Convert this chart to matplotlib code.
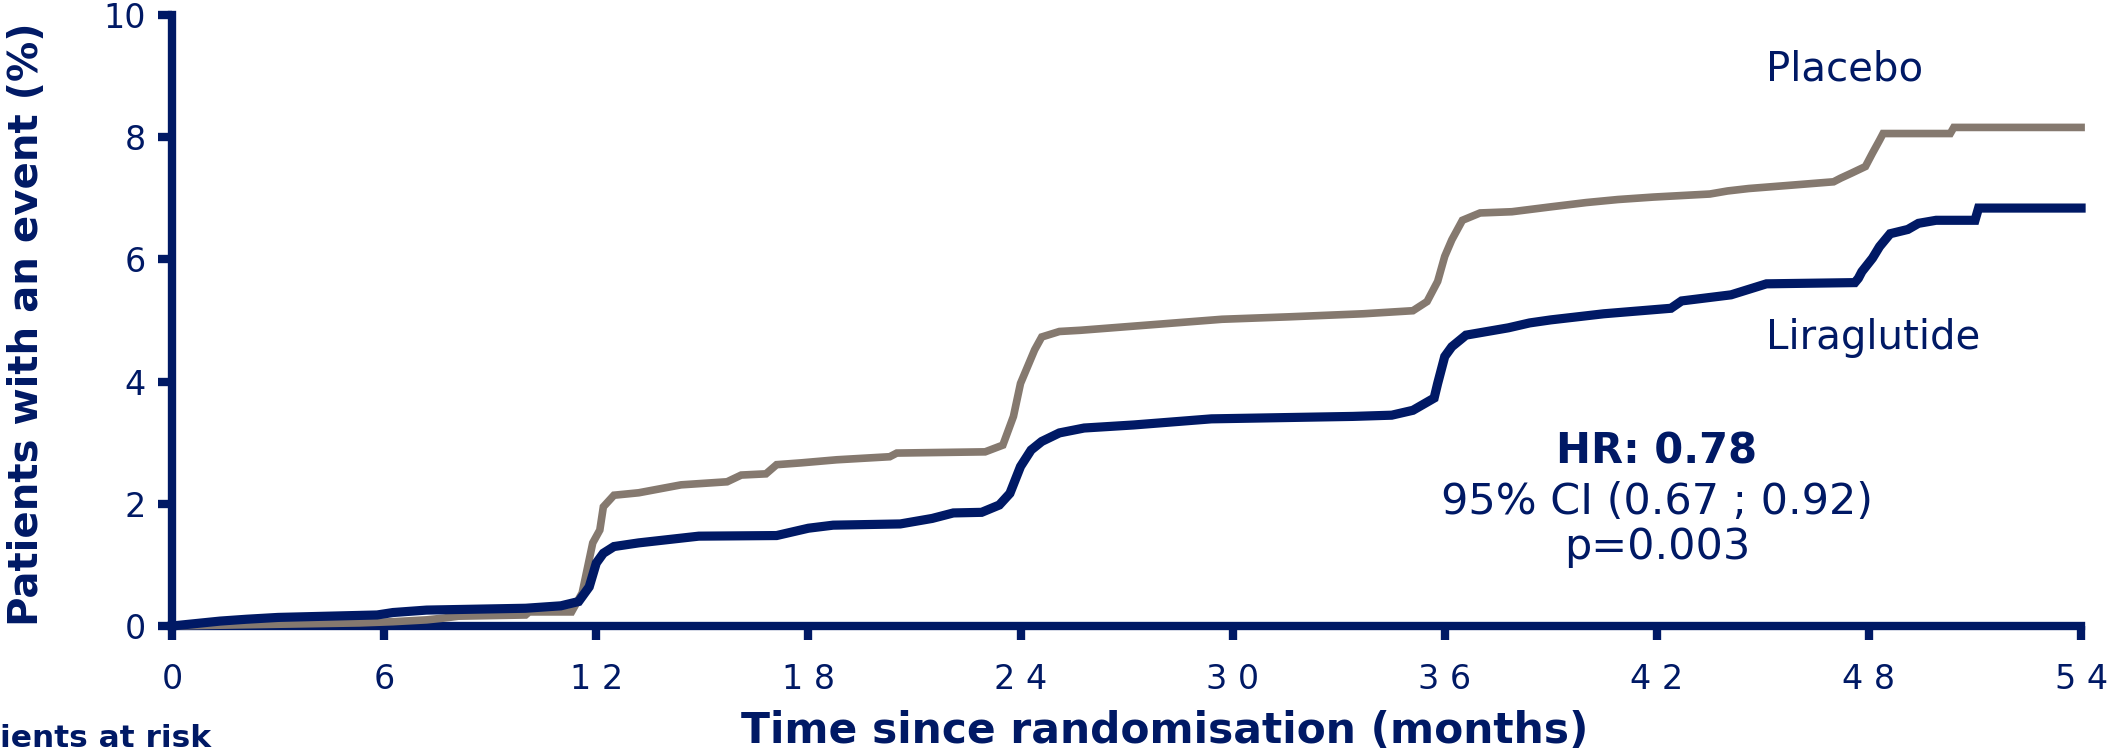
import matplotlib
matplotlib.use("Agg")
import matplotlib.pyplot as plt

# Kaplan-Meier style cumulative event curves
placebo_t = [0, 5.3, 6.25, 7.2, 7.7, 8.1, 10.0, 10.1, 11.3, 11.6, 11.9, 12.1, 12.2, 12.5,
             13.2, 14.4, 15.7, 16.1, 16.8, 17.1, 17.8, 18.8, 20.3, 20.5, 23.0, 23.5, 23.8,
             24.0, 24.4, 24.6, 25.1, 25.7, 27.7, 29.7, 31.6, 33.7, 35.1, 35.5, 35.8, 36.0,
             36.2, 36.5, 37.0, 37.9, 39.0, 40.0, 40.9, 41.9, 43.5, 44.0, 44.6, 45.7, 47.0,
             47.2, 47.5, 47.9, 48.1, 48.3, 48.4, 50.3, 50.4, 54]
placebo_pct = [0.0, 0.05, 0.07, 0.10, 0.13, 0.16, 0.18, 0.23, 0.23, 0.54, 1.36, 1.57, 1.95, 2.14,
               2.18, 2.31, 2.36, 2.47, 2.49, 2.64, 2.67, 2.72, 2.77, 2.83, 2.85, 2.96, 3.43,
               3.97, 4.52, 4.73, 4.82, 4.84, 4.93, 5.02, 5.06, 5.11, 5.16, 5.31, 5.64, 6.05,
               6.32, 6.64, 6.76, 6.78, 6.86, 6.93, 6.98, 7.02, 7.07, 7.12, 7.16, 7.21, 7.27,
               7.33, 7.41, 7.52, 7.74, 7.95, 8.06, 8.06, 8.16, 8.16]

lira_t = [0, 1.36, 2.1, 3.0, 5.8, 6.25, 7.2, 10.0, 11.0, 11.5, 11.8, 12.0, 12.2, 12.5, 13.2,
          14.9, 17.1, 18.0, 18.7, 20.6, 21.5, 22.1, 22.9, 23.4, 23.7, 24.0, 24.3, 24.6, 25.1,
          25.8, 27.2, 29.4, 33.4, 34.5, 35.1, 35.7, 35.8, 36.0, 36.2, 36.6, 37.8, 38.4, 39.0,
          40.5, 42.4, 42.7, 44.1, 44.6, 45.1, 47.6, 47.7, 47.8, 48.1, 48.3, 48.6, 49.1, 49.4,
          49.9, 51.0, 51.1, 54]
lira_pct = [0.0, 0.08, 0.11, 0.14, 0.18, 0.22, 0.26, 0.29, 0.33, 0.40, 0.64, 1.03, 1.19, 1.30,
            1.36, 1.47, 1.48, 1.60, 1.65, 1.67, 1.76, 1.85, 1.86, 1.98, 2.17, 2.61, 2.88, 3.02,
            3.16, 3.24, 3.29, 3.39, 3.43, 3.45, 3.53, 3.73, 3.97, 4.41, 4.57, 4.76, 4.88, 4.96,
            5.01, 5.11, 5.20, 5.32, 5.42, 5.51, 5.60, 5.62, 5.69, 5.80, 6.02, 6.21, 6.42, 6.49,
            6.59, 6.64, 6.64, 6.84, 6.84]

x_ticks = list(range(0, 55, 6))
y_ticks = [0, 2, 4, 6, 8, 10]
# the source font spaces the digits of two-digit labels widely
x_tick_labels = [' '.join(str(v)) for v in x_ticks]
y_tick_labels = [str(v) for v in y_ticks]

NAVY = '#001965'
TAUPE = '#85796f'

plt.rcParams['font.family'] = ['DejaVu Sans']

fig = plt.figure(figsize=(21.19, 7.54), dpi=100)
ax = fig.add_axes([0.0812, 0.1698, 0.9009, 0.8103])

ax.plot(placebo_t, placebo_pct, color=TAUPE, lw=5.5, clip_on=False, zorder=3,
        solid_joinstyle='miter')
ax.plot(lira_t, lira_pct, color=NAVY, lw=6.6, clip_on=False, zorder=4,
        solid_joinstyle='miter')

ax.set_xlim(0, 54)
ax.set_ylim(0, 10)
ax.set_xticks(x_ticks)
ax.set_yticks(y_ticks)
ax.set_xticklabels(x_tick_labels)
ax.set_yticklabels(y_tick_labels)

for side in ['top', 'right']:
    ax.spines[side].set_visible(False)
for side in ['left', 'bottom']:
    ax.spines[side].set_color(NAVY)
    ax.spines[side].set_linewidth(6)

ax.tick_params(axis='both', direction='out', length=10, width=6, color=NAVY,
               labelcolor=NAVY, labelsize=24)
ax.tick_params(axis='x', pad=17)
ax.tick_params(axis='y', pad=9)

fig.text(0.0127, 0.570, 'Patients with an event (%)', rotation=90, ha='center', va='center',
         fontsize=29, fontweight='bold', color=NAVY)
fig.text(0.5498, 0.031, 'Time since randomisation (months)', ha='center', va='center',
         fontsize=30.5, fontweight='bold', color=NAVY)
fig.text(0.0, 0.021, 'ients at risk', ha='left', va='center',
         fontsize=22.5, fontweight='bold', color=NAVY)

ax.text(45.1, 8.93, 'Placebo', ha='left', va='baseline', fontsize=29, color=NAVY)
ax.text(45.1, 4.53, 'Liraglutide', ha='left', va='baseline', fontsize=29, color=NAVY)

ax.text(42.0, 2.66, 'HR: 0.78', ha='center', va='baseline', fontsize=30,
        fontweight='bold', color=NAVY)
ax.text(42.0, 1.84, '95% CI (0.67 ; 0.92)', ha='center', va='baseline', fontsize=31, color=NAVY)
ax.text(42.0, 1.10, 'p=0.003', ha='center', va='baseline', fontsize=31, color=NAVY)

fig.savefig('out.png', dpi=100)
